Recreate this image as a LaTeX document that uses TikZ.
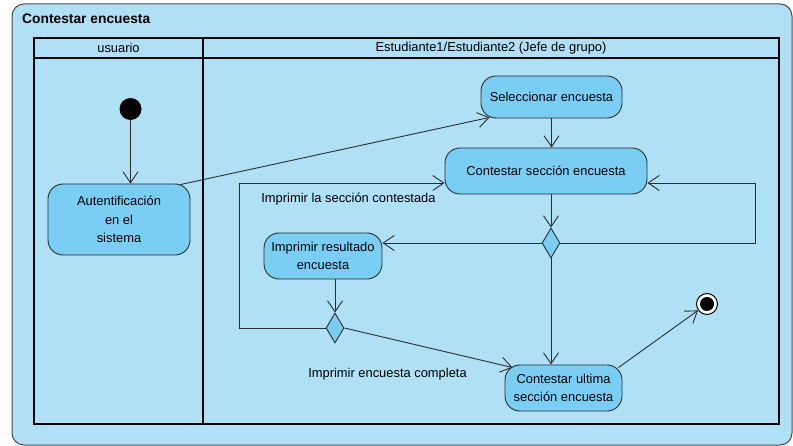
\documentclass[tikz,border=0pt]{standalone}
\usepackage{fontspec}
\setmainfont{Liberation Sans}
\usetikzlibrary{arrows.meta,shapes.geometric,calc}
\definecolor{bgblue}{RGB}{176,224,246}
\definecolor{nodeblue}{RGB}{122,206,244}
\definecolor{edgegray}{RGB}{45,45,45}
\begin{document}
\begin{tikzpicture}[x=1pt,y=-1pt,
  every node/.style={font=\fontsize{12.9}{18.5}\selectfont},
  action/.style={draw=edgegray,line width=0.9pt,fill=nodeblue,rounded corners=15pt,align=center,inner sep=2pt},
  decision/.style={draw=edgegray,line width=0.9pt,fill=nodeblue,diamond,minimum width=18pt,minimum height=30pt,inner sep=0pt},
  arr/.style={draw=edgegray,line width=0.9pt,-{Straight Barb[length=11pt,width=15pt]}},
  lane/.style={line width=2pt,draw=black},
  lbl/.style={inner sep=0pt}
]
\useasboundingbox (0,0) rectangle (793,446);
% frame
\draw[draw=black!70,line width=1pt,fill=bgblue,rounded corners=12pt] (12,4) rectangle (792,445);
\node[lbl,anchor=west,font=\bfseries\fontsize{13.8}{16}\selectfont] (title) at (22,19) {Contestar encuesta};
% swimlanes
\draw[lane] (34,38) rectangle (779,424);
\draw[lane] (34,58) -- (779,58);
\draw[lane] (203,38) -- (203,424);
\node[lbl] (h1) at (118.5,48) {usuario};
\node[lbl] (h2) at (491,48) {Estudiante1/Estudiante2 (Jefe de grupo)};
% nodes
\node[circle,fill=black,minimum size=22pt,inner sep=0pt] (init) at (130.5,109) {};
\node[action,minimum width=142pt,minimum height=71pt] (auth) at (119,219.5) {Autentificación\\en el\\sistema};
\node[action,minimum width=141pt,minimum height=42pt] (sel) at (551.5,97) {Seleccionar encuesta};
\node[action,minimum width=202pt,minimum height=46pt] (cs) at (546,171) {Contestar sección encuesta};
\node[decision] (d1) at (551,243) {};
\node[action,minimum width=118pt,minimum height=46pt] (imp) at (323,256) {Imprimir resultado\\encuesta};
\node[decision] (d2) at (335,328) {};
\node[action,minimum width=117pt,minimum height=46pt] (cu) at (563.5,388) {Contestar ultima\\sección encuesta};
\node[circle,draw=black,line width=1pt,fill=white,minimum size=21pt,inner sep=0pt] (fin) at (707,304) {};
\fill[black] (fin.center) circle (7pt);
% coordinates for loops
\coordinate (loopR) at (755,183);
\coordinate (loopL) at (239,183);
% edges
\draw[arr] (init.south) -- (init.south |- auth.north);
\draw[arr] ($(auth.north east)+(-10,1)$) -- ($(sel.south west)+(9,-1)$);
\draw[arr] (sel.south) -- (sel.south |- cs.north);
\draw[arr] (d1.north |- cs.south) -- (d1.north);
\draw[arr] (d1.east) -| (loopR) -- (loopR -| cs.east);
\draw[arr] (d1.west) -- (d1.west -| imp.east);
\draw[arr] (d2.north |- imp.south) -- (d2.north);
\draw[arr] (d2.west) -| (loopL) -- (loopL -| cs.west);
\draw[arr] (d2.east) -- ($(cu.north west)+(8,3)$);
\draw[arr] (d1.south) -- (d1.south |- cu.north);
\draw[arr] ($(cu.north east)+(-4,3)$) -- (fin);
% labels
\node[lbl] (l1) at (348.5,199) {Imprimir la sección contestada};
\node[lbl] (l2) at (387.5,374) {Imprimir encuesta completa};
\end{tikzpicture}
\end{document}
